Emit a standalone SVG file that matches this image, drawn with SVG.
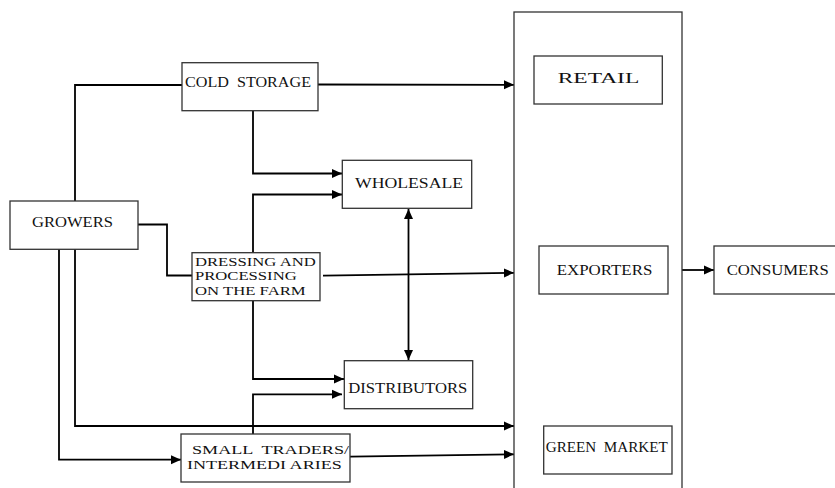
<svg xmlns="http://www.w3.org/2000/svg" width="835" height="488" viewBox="0 0 835 488">
<style>
.box{fill:#fff;stroke:#333;stroke-width:1.3}
.frame{fill:none;stroke:#333;stroke-width:1.3}
.c{fill:none;stroke:#000;stroke-width:1.8}
.a{marker-end:url(#ah)}
text{font-family:"Liberation Serif","Times New Roman",serif;font-size:15.5px;fill:#111}
.ml{font-size:13.5px}
</style>
<defs>
<marker id="ah" markerUnits="userSpaceOnUse" markerWidth="11" markerHeight="10" refX="10" refY="5" orient="auto-start-reverse">
<path d="M0,0.5 L10,5 L0,9.5 z" fill="#000"/>
</marker>
</defs>
<rect width="835" height="488" fill="#fff"/>
<g id="connectors">
<path class="c" d="M75,201 V85 H188"/>
<path class="c a" d="M318,84.5 L514,84.8"/>
<path class="c a" d="M253,111 V173.5 H342"/>
<path class="c a" d="M253,253 V194.5 H342"/>
<path class="c" d="M138,224.5 H167 V275.5 H192"/>
<path class="c a" d="M323,275.7 L514,272.8"/>
<path class="c" d="M408.5,209 V360" marker-start="url(#ah)" marker-end="url(#ah)"/>
<path class="c a" d="M253,301 V379 H344"/>
<path class="c a" d="M253,434 V394.3 H342"/>
<path class="c a" d="M75,249 V426 H514"/>
<path class="c a" d="M59,249 V459.7 H181"/>
<path class="c a" d="M350,456.7 L514,454.3"/>
<path class="c a" d="M682,270 H714"/>
</g>
<g id="markets-frame"><rect class="frame" x="514" y="12" width="168" height="480"/></g>
<g id="cold-storage"><rect class="box" x="182" y="62.7" width="136" height="48"/><text x="185" y="87.3" textLength="126" lengthAdjust="spacingAndGlyphs" xml:space="preserve">COLD  STORAGE</text></g>
<g id="growers"><rect class="box" x="10" y="201" width="128" height="48.3"/><text x="32" y="227.3" textLength="81" lengthAdjust="spacingAndGlyphs">GROWERS</text></g>
<g id="wholesale"><rect class="box" x="342.3" y="160.3" width="129.4" height="48"/><text x="355" y="187.7" textLength="108" lengthAdjust="spacingAndGlyphs">WHOLESALE</text></g>
<g id="dressing"><rect class="box" x="192" y="252.7" width="128" height="48"/>
<text class="ml" x="195" y="265.7" textLength="120.7" lengthAdjust="spacingAndGlyphs">DRESSING AND</text>
<text class="ml" x="195" y="280.3" textLength="101.7" lengthAdjust="spacingAndGlyphs">PROCESSING</text>
<text class="ml" x="195" y="295" textLength="110.7" lengthAdjust="spacingAndGlyphs">ON THE FARM</text></g>
<g id="distributors"><rect class="box" x="344.3" y="360.7" width="128.4" height="48"/><text x="348.3" y="393.3" textLength="119" lengthAdjust="spacingAndGlyphs">DISTRIBUTORS</text></g>
<g id="small-traders"><rect class="box" x="181" y="434" width="169" height="48"/>
<text class="ml" x="192" y="454.3" textLength="157" lengthAdjust="spacingAndGlyphs" xml:space="preserve">SMALL  TRADERS/</text>
<text class="ml" x="187" y="469.3" textLength="154.7" lengthAdjust="spacingAndGlyphs">INTERMEDI ARIES</text></g>
<g id="retail"><rect class="box" x="534" y="56" width="128.3" height="48"/><text x="557.7" y="83.3" textLength="81.6" lengthAdjust="spacingAndGlyphs">RETAIL</text></g>
<g id="exporters"><rect class="box" x="539" y="246" width="129" height="48"/><text x="556.7" y="275.3" textLength="95.6" lengthAdjust="spacingAndGlyphs">EXPORTERS</text></g>
<g id="consumers"><rect class="box" x="714" y="246" width="130" height="48"/><text x="726.7" y="275.3" textLength="102" lengthAdjust="spacingAndGlyphs">CONSUMERS</text></g>
<g id="green-market"><rect class="box" x="543.7" y="426" width="128.3" height="48"/><text x="545.7" y="452.3" textLength="122" lengthAdjust="spacingAndGlyphs" xml:space="preserve">GREEN  MARKET</text></g>
</svg>
